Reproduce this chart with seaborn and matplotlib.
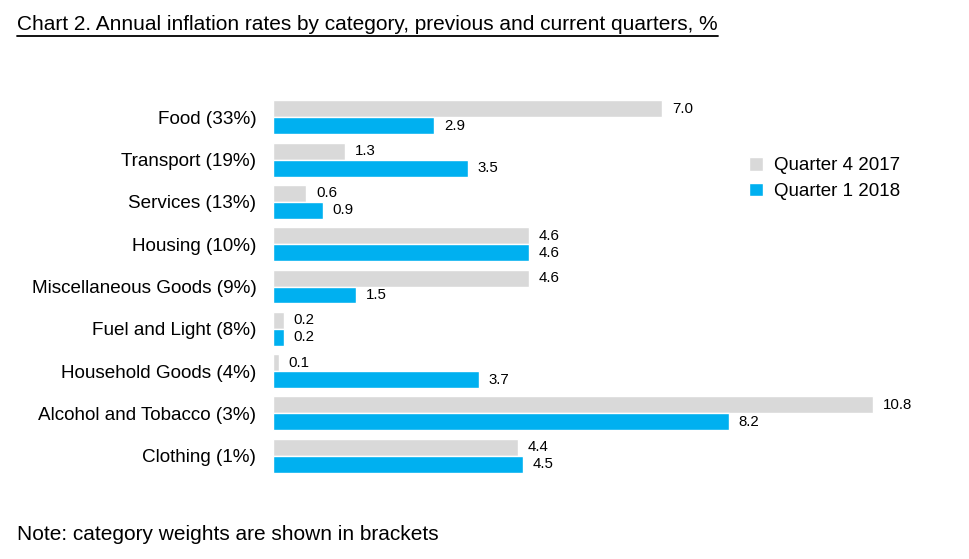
import pandas as pd
import seaborn as sns
import matplotlib.pyplot as plt
from matplotlib.lines import Line2D

categories = ['Food (33%)', 'Transport (19%)', 'Services (13%)', 'Housing (10%)',
              'Miscellaneous Goods (9%)', 'Fuel and Light (8%)', 'Household Goods (4%)',
              'Alcohol and Tobacco (3%)', 'Clothing (1%)']
q4_2017 = [7.0, 1.3, 0.6, 4.6, 4.6, 0.2, 0.1, 10.8, 4.4]
q1_2018 = [2.9, 3.5, 0.9, 4.6, 1.5, 0.2, 3.7, 8.2, 4.5]
series = ['Quarter 4 2017', 'Quarter 1 2018']

df = pd.DataFrame({
    'category': categories * 2,
    'value': q4_2017 + q1_2018,
    'quarter': [series[0]] * len(categories) + [series[1]] * len(categories),
})

sns.set_style("white")
plt.rcParams['font.family'] = ['Liberation Sans', 'DejaVu Sans']
plt.rcParams['text.color'] = 'black'
plt.rcParams['ytick.color'] = 'black'

fig = plt.figure(figsize=(9.69, 5.59), dpi=100)
ax = fig.add_axes([273 / 969, 1 - 481 / 559, (940 - 273) / 969, (481 - 92) / 559])

sns.barplot(data=df, y='category', x='value', hue='quarter', orient='h',
            palette=['#D9D9D9', '#00B0F0'], width=0.8, gap=0, ax=ax,
            saturation=1, errorbar=None)

for c in ax.containers:
    ax.bar_label(c, fmt='%.1f', padding=7, fontsize=10.8, color='black')

ax.set_xlim(0, 12)
ax.set_ylim(8.6, -0.6)
ax.set_xlabel('')
ax.set_ylabel('')
ax.set_xticks([])
sns.despine(ax=ax, left=True, bottom=True)
ax.tick_params(axis='y', length=0, pad=12, labelsize=13.6, labelcolor='black')

ax.legend(loc='upper left', bbox_to_anchor=(732 / 969, 1 - 140 / 559),
          bbox_transform=fig.transFigure, frameon=False, fontsize=13.5,
          handlelength=0.75, handleheight=0.75, handletextpad=0.6, labelspacing=0.45)

title = fig.text(17 / 969, 1 - 25 / 559, 'Chart 2. Annual inflation rates by category, previous and current quarters, %',
                 fontsize=15, va='center', ha='left')
fig.canvas.draw()
bb = title.get_window_extent().transformed(fig.transFigure.inverted())
fig.add_artist(Line2D([bb.x0, bb.x1], [bb.y0 - 0.003, bb.y0 - 0.003], color='black', lw=1.3,
                      transform=fig.transFigure))

fig.text(17 / 969, 1 - 535 / 559, 'Note: category weights are shown in brackets',
         fontsize=15, va='center', ha='left')

plt.savefig('out.png', dpi=100)
